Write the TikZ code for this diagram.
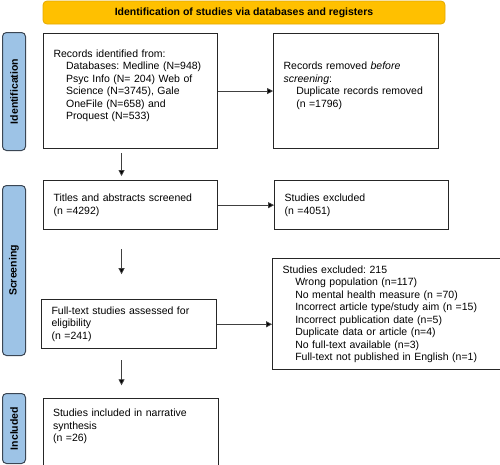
\documentclass[tikz,border=0pt]{standalone}
\usepackage{fontspec}
\setmainfont{Liberation Sans}
\usetikzlibrary{positioning, arrows.meta}
\definecolor{bannergold}{HTML}{FFC000}
\definecolor{bannerline}{HTML}{E3A900}
\definecolor{phaseblue}{HTML}{9DC3E6}
\definecolor{phaseline}{HTML}{3B4654}
\tikzstyle{banner} = [rectangle, rounded corners=4pt, minimum width=402pt, minimum height=23pt, draw=bannerline, line width=0.8pt, fill=bannergold, font=\fontsize{10.5}{12}\selectfont\bfseries]
\tikzstyle{phase} = [rectangle, rounded corners=4pt, minimum width=23pt, draw=phaseline, line width=1pt, fill=phaseblue]
\tikzstyle{phasetext} = [rotate=90, font=\fontsize{10.5}{12}\selectfont\bfseries]
\tikzstyle{stage} = [rectangle, draw=black!85, line width=1.1pt, align=left, inner xsep=10pt, font=\fontsize{10.5}{12.5}\selectfont]
\tikzstyle{arrow} = [line width=0.8pt, draw=black!75, -{Triangle[length=6pt, width=6pt, fill=black]}]

\begin{document}
\frenchspacing
\begin{tikzpicture}[x=1pt, y=1pt]
                \useasboundingbox (0,0) rectangle (500,-464);
                % Nodes
                \node (banner) [banner] at (244,-12.5) {Identification of studies via databases and registers};
                \node (records) [stage, anchor=north west, minimum width=174pt, minimum height=115pt, text width=154pt] at (43,-33) {Records identified from:\\
                \hspace*{1.2em}Databases: Medline (N=948)\\
                \hspace*{1.2em}Psyc Info (N= 204) Web of\\
                \hspace*{1.2em}Science (N=3745), Gale\\
                \hspace*{1.2em}OneFile (N=658) and\\
                \hspace*{1.2em}Proquest (N=533)\\\mbox{}};
                \node (removed) [stage, right=55pt of records, minimum width=165pt, minimum height=115pt, text width=145pt] {Records removed \emph{before}\\
                \emph{screening}:\\
                \hspace*{1.2em}Duplicate records removed\\
                \hspace*{1.2em}(n =1796)\\\mbox{}};
                \node (screened) [stage, below=31pt of records, minimum width=174pt, minimum height=49pt, text width=154pt] {Titles and abstracts screened\\(n =4292)};
                \node (excluded) [stage, right=56pt of screened, minimum width=174pt, minimum height=49pt, text width=154pt] {Studies excluded\\(n =4051)};
                \node (assessed) [stage, below=69pt of screened, xshift=-1.5pt, minimum width=175pt, minimum height=49pt, text width=155pt] {Full-text studies assessed for\\eligibility\\(n =241)};
                \node (reasons) [stage, right=55pt of assessed, yshift=10pt, minimum width=228pt, minimum height=111pt, text width=208pt] {Studies excluded: 215\\
                \hspace*{1.2em}Wrong population (n=117)\\
                \hspace*{1.2em}No mental health measure (n =70)\\
                \hspace*{1.2em}Incorrect article type/study aim (n =15)\\
                \hspace*{1.2em}Incorrect publication date (n=5)\\
                \hspace*{1.2em}Duplicate data or article (n=4)\\
                \hspace*{1.2em}No full-text available (n=3)\\
                \hspace*{1.2em}Full-text not published in English (n=1)};
                \node (included) [stage, below=49pt of assessed, xshift=1.5pt, minimum width=175pt, minimum height=68pt, text width=155pt] {Studies included in narrative\\synthesis\\(n =26)\\[2pt]\mbox{}};

                % Phase labels
                \node (identphase) [phase, anchor=north west, minimum height=118pt] at (2,-32) {};
                \node (screenphase) [phase, anchor=north west, minimum height=170pt] at (2,-185) {};
                \node (inclphase) [phase, anchor=north west, minimum height=70pt] at (2,-393) {};
                \node (identtext) [phasetext] at (identphase.center) {Identification};
                \node (screentext) [phasetext] at (screenphase.center) {Screening};
                \node (incltext) [phasetext] at (inclphase.center) {Included};

                % Arrows
                \draw [arrow] (records) -- (removed);
                \draw [arrow] (screened) -- (excluded);
                \draw [arrow] (assessed.east) -- (assessed.east -| reasons.west);
                \draw [arrow, shorten <=4pt, shorten >=4pt] ([xshift=-9pt]records.south) -- ([xshift=-9pt]records.south |- screened.north);
                \draw [arrow, shorten <=19pt, shorten >=25pt] ([xshift=-9pt]screened.south) -- ([xshift=-9pt]screened.south |- assessed.north);
                \draw [arrow, shorten <=11pt, shorten >=13pt] ([xshift=-7.5pt]assessed.south) -- ([xshift=-7.5pt]assessed.south |- included.north);
            \end{tikzpicture}
\end{document}
